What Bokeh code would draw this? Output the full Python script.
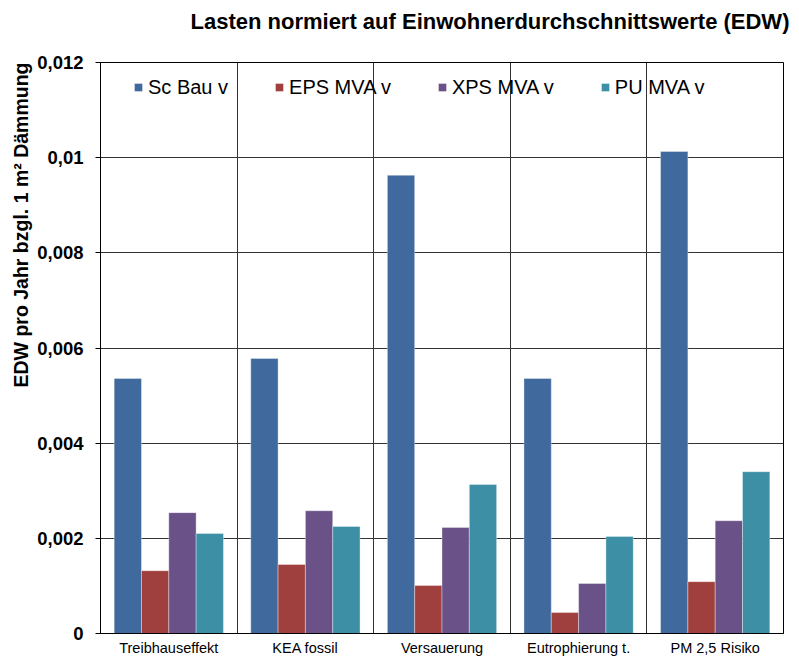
import numpy as np
from bokeh.plotting import figure
from bokeh.models import (Range1d, FixedTicker, CustomJSTickFormatter, Title,
                          ColumnDataSource)
from bokeh.embed import file_html
from bokeh.resources import INLINE

# ---- data ----
categories = ["Treibhauseffekt", "KEA fossil", "Versauerung", "Eutrophierung t.", "PM 2,5 Risiko"]
series_names = ["Sc Bau v", "EPS MVA v", "XPS MVA v", "PU MVA v"]
sc_bau = [0.00536, 0.00578, 0.00963, 0.00536, 0.01013]
eps_mva = [0.00132, 0.00145, 0.00101, 0.00044, 0.00109]
xps_mva = [0.00254, 0.00258, 0.00223, 0.00105, 0.00237]
pu_mva = [0.00210, 0.00225, 0.00313, 0.00204, 0.00340]
y_ticks = [0, 0.002, 0.004, 0.006, 0.008, 0.01, 0.012]

colors = ["#40699d", "#a0403e", "#6a5187", "#3c8fa4"]
series = [sc_bau, eps_mva, xps_mva, pu_mva]
FONT = "Liberation Sans"

n = len(categories)
centers = np.arange(n) + 0.5
bar_w = 0.2
offsets = [-0.3, -0.1, 0.1, 0.3]

p = figure(width=798, height=658, output_backend="svg", toolbar_location=None,
           x_range=Range1d(0, n), y_range=Range1d(0, 0.012),
           min_border_left=100, min_border_right=15, min_border_top=62, min_border_bottom=25)
p.background_fill_color = "white"
p.border_fill_color = "white"
p.outline_line_color = "black"
p.outline_line_width = 1

for name, vals, col, off in zip(series_names, series, colors, offsets):
    src = ColumnDataSource(dict(x=centers + off, top=vals))
    p.vbar(x="x", top="top", bottom=0, width=bar_w, source=src, fill_color=col,
           line_color="white", line_width=0.6, line_alpha=0.6, legend_label=name)

# axes
p.xaxis.ticker = FixedTicker(ticks=list(centers))
p.xaxis.major_label_overrides = {float(c): cat for c, cat in zip(centers, categories)}
p.xaxis.major_tick_line_color = None
p.xaxis.minor_tick_line_color = None
p.xaxis.axis_line_color = "black"
p.xaxis.major_label_text_font = FONT
p.xaxis.major_label_text_font_size = "14.5px"
p.xaxis.major_label_text_color = "black"
p.xaxis.major_label_standoff = 0

p.yaxis.ticker = FixedTicker(ticks=y_ticks)
p.yaxis.formatter = CustomJSTickFormatter(code="""
const s = (+tick.toFixed(6)).toString();
return s.replace('.', ',');
""")
p.yaxis.major_tick_out = 5
p.yaxis.major_tick_in = 0
p.yaxis.minor_tick_line_color = None
p.yaxis.axis_line_color = "black"
p.yaxis.major_label_text_font = FONT
p.yaxis.major_label_text_font_size = "18.5px"
p.yaxis.major_label_text_font_style = "bold"
p.yaxis.major_label_text_color = "black"
p.yaxis.major_label_standoff = 12

# grids
p.ygrid.ticker = FixedTicker(ticks=y_ticks)
p.ygrid.grid_line_color = "#333333"
p.ygrid.grid_line_width = 1
p.xgrid.ticker = FixedTicker(ticks=list(range(1, n)))
p.xgrid.grid_line_color = "#333333"
p.xgrid.grid_line_width = 1

# legend
lg = p.legend[0]
lg.orientation = "horizontal"
lg.location = (33, 534)
lg.background_fill_alpha = 0
lg.border_line_color = None
lg.padding = 0
lg.margin = 0
lg.spacing = 46
lg.glyph_width = 10
lg.glyph_height = 10
lg.label_standoff = 5
lg.label_text_font = FONT
lg.label_text_font_size = "20px"
lg.label_text_color = "black"
lg.label_height = 24

# title (second, empty line lifts it away from the frame) and y-axis label
title = Title(text="Lasten normiert auf Einwohnerdurchschnittswerte (EDW)\n ",
              align="left", offset=90, standoff=8,
              text_font=FONT, text_font_size="22px", text_font_style="bold",
              text_color="black")
p.add_layout(title, "above")
ylab = Title(text="EDW pro Jahr bzgl. 1 m² Dämmung", align="right", standoff=6,
             text_font=FONT, text_font_size="19.5px", text_font_style="bold",
             text_color="black")
p.add_layout(ylab, "left")

open("out.html", "w").write(file_html(p, INLINE))
